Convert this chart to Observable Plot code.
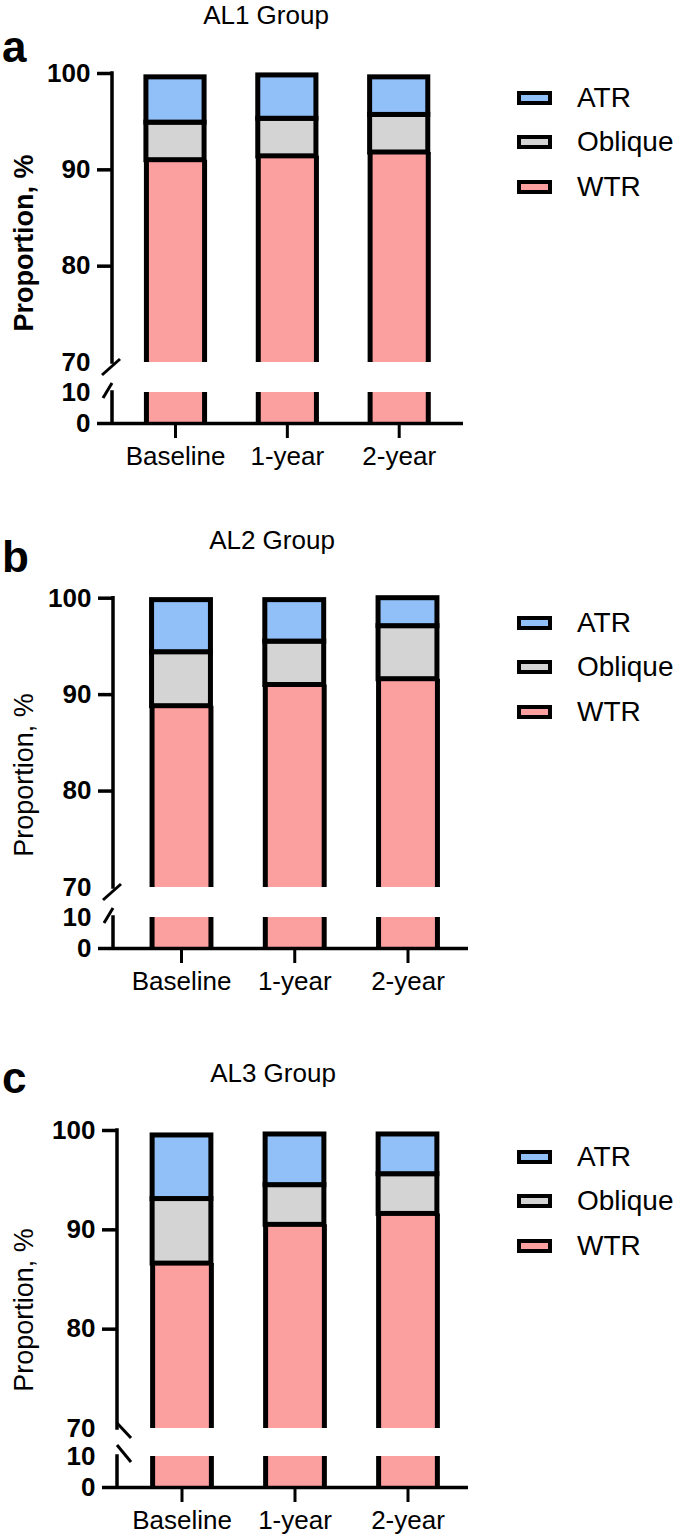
<!DOCTYPE html>
<html><head><meta charset="utf-8">
<script src="https://cdn.jsdelivr.net/npm/d3@7"></script>
<script src="https://cdn.jsdelivr.net/npm/@observablehq/plot@0.6"></script>
<style>
body{margin:0;background:#fff;font-family:"Liberation Sans",Arial,sans-serif;color:#000;}
#root{width:685px;position:relative;}
.panel{position:relative;width:685px;overflow:visible;}
.panel svg{display:block;}
.title{position:absolute;font-size:26px;line-height:1;transform:translateX(-50%);white-space:nowrap;}
.letter{position:absolute;left:2px;font-size:44px;font-weight:bold;line-height:1;}
.ylab{position:absolute;font-size:27px;line-height:1;white-space:nowrap;transform:translate(-50%,-50%) rotate(-90deg);}
.row{position:absolute;left:517px;display:flex;align-items:center;white-space:nowrap;transform:translateY(-50%);}
.sw{width:27px;height:6px;border:4px solid #000;}
.lab{font-size:28px;margin-left:25px;line-height:1;}
</style></head><body><div id="root"></div>
<script>
// ---- data ----
const categories = ["Baseline", "1-year", "2-year"];
const groups = ["AL1 Group", "AL2 Group", "AL3 Group"];
const panelLetters = ["a", "b", "c"];
const seriesNames = ["ATR", "Oblique", "WTR"];
const al1WTR = [91.0, 91.4, 91.8];
const al1Oblique = [3.9, 3.9, 3.9];
const al1ATR = [4.7, 4.5, 3.9];
const al2WTR = [88.8, 91.0, 91.6];
const al2Oblique = [5.6, 4.5, 5.5];
const al2ATR = [5.4, 4.3, 2.9];
const al3WTR = [86.6, 90.5, 91.6];
const al3Oblique = [6.5, 4.0, 4.0];
const al3ATR = [6.4, 5.1, 4.0];
const yTickValues = [0, 80, 90, 100];
const yBreakLabels = [10, 70];
const yLabel = "Proportion, %";
const yBreakLow = 10, yBreakHigh = 70, yMax = 100;

const seriesColors = ["#91BFF8", "#D4D4D4", "#FC9F9F"];
const HW = 0.26;

const panelData = [
  {wtr: al1WTR, obl: al1Oblique, atr: al1ATR},
  {wtr: al2WTR, obl: al2Oblique, atr: al2ATR},
  {wtr: al3WTR, obl: al3Oblique, atr: al3ATR}
];

const layout = [
  {height: 525, yRange: [423, 392, 362, 73], marginLeft: 112, marginRight: 222, xRange: [175, 398.7],
   titleX: 266, titleTop: 2, letterTop: 25, labelWeight: "bold", labelY: 243,
   slashes: [[-10, 13, 8, -3], [-9, 6, 0, -9]]},
  {height: 534, yRange: [423, 392, 362, 72.7], marginLeft: 113, marginRight: 217, xRange: [181, 407.5],
   titleX: 272, titleTop: 2, letterTop: 10, labelWeight: "normal", labelY: 250,
   slashes: [[-10, 13, 8, -3], [-9, 6, 0, -9]]},
  {height: 479, yRange: [428, 397, 369, 71], marginLeft: 117, marginRight: 217, xRange: [181.5, 407.5],
   titleX: 273, titleTop: 1, letterTop: -3, labelWeight: "normal", labelY: 251,
   slashes: [[0, -5, 14, 10], [0, -11, 14, 6]]}
];

function segments({wtr, obl, atr}) {
  return categories.flatMap((c, i) => {
    const w = wtr[i], o = w + obl[i], t = o + atr[i];
    return [
      {i, s: "WTR", y1: 0, y2: yBreakLow, open: true},
      {i, s: "WTR", y1: yBreakHigh, y2: w, open: true},
      {i, s: "Oblique", y1: w, y2: o, open: false},
      {i, s: "ATR", y1: o, y2: t, open: false}
    ];
  });
}

function axisLine(L) {
  return (index, scales, values, dimensions) => {
    const y = scales.y;
    const x0 = dimensions.marginLeft;
    const g = d3.create("svg:g").attr("stroke", "black").attr("stroke-width", 3.5).attr("fill", "none");
    [[yBreakHigh, yMax], [0, yBreakLow]].forEach(([a, b]) => {
      g.append("line").attr("x1", x0).attr("x2", x0).attr("y1", y(a)).attr("y2", y(b)).attr("stroke-linecap", "square");
    });
    [yBreakHigh, yBreakLow].forEach((v, k) => {
      const [a, b, c, d] = L.slashes[k];
      g.append("line").attr("x1", x0 + a).attr("y1", y(v) + b).attr("x2", x0 + c).attr("y2", y(v) + d).attr("stroke-width", 3);
    });
    return g.node();
  };
}

const root = document.getElementById("root");
panelData.forEach((pd, p) => {
  const L = layout[p];
  const segs = segments(pd);
  const sides = segs.filter(d => d.open).flatMap(d => [
    {x: d.i - HW, y1: d.y1, y2: d.y2},
    {x: d.i + HW, y1: d.y1, y2: d.y2}
  ]);
  const chart = Plot.plot({
    width: 685,
    height: L.height,
    marginLeft: L.marginLeft,
    marginRight: L.marginRight,
    marginTop: L.yRange[3],
    marginBottom: L.height - L.yRange[0],
    style: {fontFamily: "'Liberation Sans', Arial, sans-serif", background: "white", overflow: "visible", color: "black"},
    x: {type: "linear", domain: [0, categories.length - 1], range: L.xRange},
    y: {type: "linear", domain: [0, yBreakLow, yBreakHigh, yMax], range: L.yRange},
    color: {domain: seriesNames, range: seriesColors},
    marks: [
      Plot.rect(segs, {x1: d => d.i - HW, x2: d => d.i + HW, y1: "y1", y2: "y2", fill: "s"}),
      Plot.ruleX(sides, {x: "x", y1: "y1", y2: "y2", stroke: "black", strokeWidth: 5}),
      Plot.rect(segs.filter(d => !d.open), {x1: d => d.i - HW, x2: d => d.i + HW, y1: "y1", y2: "y2", fill: "s", stroke: "black", strokeWidth: 5}),
      Plot.ruleY([0], {stroke: "black", strokeWidth: 3.5}),
      axisLine(L),
      Plot.axisY({ticks: yTickValues, tickSize: 15, tickPadding: 7, fontSize: 26, fontWeight: "bold", strokeWidth: 3.5, label: null}),
      Plot.axisY({ticks: yBreakLabels, tickSize: 0, tickPadding: 22, fontSize: 26, fontWeight: "bold", label: null}),
      Plot.axisX({ticks: [0, 1, 2], tickFormat: i => categories[i], tickSize: 15, tickPadding: 8, fontSize: 26, strokeWidth: 3, label: null})
    ]
  });
  const panel = document.createElement("div");
  panel.className = "panel";
  panel.style.height = L.height + "px";
  panel.appendChild(chart);
  const title = document.createElement("div");
  title.className = "title";
  title.style.left = L.titleX + "px";
  title.style.top = L.titleTop + "px";
  title.textContent = groups[p];
  panel.appendChild(title);
  const letter = document.createElement("div");
  letter.className = "letter";
  letter.style.top = L.letterTop + "px";
  letter.textContent = panelLetters[p];
  panel.appendChild(letter);
  const ylab = document.createElement("div");
  ylab.className = "ylab";
  ylab.style.left = "24px";
  ylab.style.top = L.labelY + "px";
  ylab.style.fontWeight = L.labelWeight;
  ylab.textContent = yLabel;
  panel.appendChild(ylab);
  seriesNames.forEach((s, k) => {
    const row = document.createElement("div");
    row.className = "row";
    row.style.top = (97.5 + k * 44.7) + "px";
    const sw = document.createElement("div");
    sw.className = "sw";
    sw.style.background = seriesColors[k];
    const lab = document.createElement("span");
    lab.className = "lab";
    lab.textContent = s;
    row.appendChild(sw); row.appendChild(lab);
    panel.appendChild(row);
  });
  root.appendChild(panel);
});
</script></body></html>
